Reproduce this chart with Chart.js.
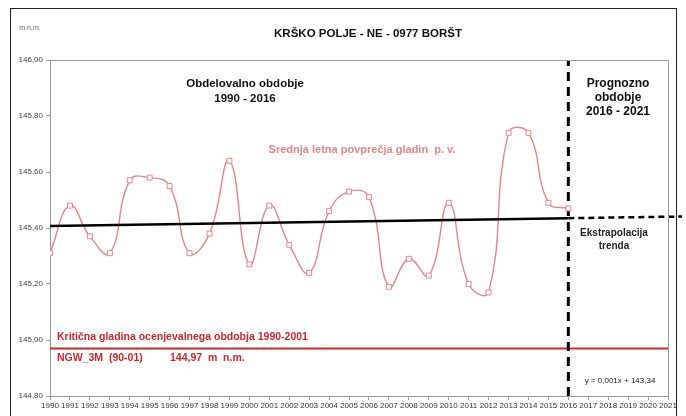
<!DOCTYPE html>
<html>
<head>
<meta charset="utf-8">
<script src="https://cdn.jsdelivr.net/npm/chart.js@4.4.1/dist/chart.umd.min.js"></script>
<style>
  html, body { margin: 0; padding: 0; background: #ffffff; }
  #wrap { position: relative; width: 686px; height: 416px; }
  canvas { display: block; }
</style>
</head>
<body>
<div id="wrap"><canvas id="c" width="686" height="416"></canvas></div>
<script>
// ---- data ----
const years = [1990,1991,1992,1993,1994,1995,1996,1997,1998,1999,2000,2001,2002,2003,2004,2005,2006,2007,2008,2009,2010,2011,2012,2013,2014,2015,2016];
const levels = [145.31,145.48,145.37,145.31,145.57,145.58,145.55,145.31,145.38,145.64,145.27,145.48,145.34,145.24,145.46,145.53,145.51,145.19,145.29,145.23,145.49,145.20,145.17,145.74,145.74,145.49,145.47];
const trendYears = [1990, 2016];
const trendValues = [145.407, 145.435];
const extrapYears = [2016, 2021.7];
const extrapValues = [145.435, 145.441];
const criticalYears = [1990, 2021];
const criticalValues = [144.97, 144.97];
const splitYear = 2016;
const yMin = 144.8, yMax = 146.0, yStep = 0.2;
const xMin = 1990, xMax = 2021;

const title = "KRŠKO POLJE - NE - 0977 BORŠT";
const unitLabel = "m n.m.";

const toXY = (xs, ys) => xs.map((x, i) => ({ x: x, y: ys[i] }));

const FONT = "'Liberation Sans', Arial, sans-serif";
const PINK = '#e6858a';
const RED = '#d2262e';

const textPlugin = {
  id: 'texts',
  afterDraw(chart) {
    const ctx = chart.ctx;
    const ca = chart.chartArea;
    ctx.save();
    // outer frame
    ctx.strokeStyle = '#222';
    ctx.lineWidth = 1;
    ctx.strokeRect(10.5, 8.5, 666, 420);
    // plot frame (top & right)
    ctx.strokeStyle = '#9a9a9a';
    ctx.beginPath();
    ctx.moveTo(ca.left, ca.top + 0.5);
    ctx.lineTo(ca.right + 0.5, ca.top + 0.5);
    ctx.lineTo(ca.right + 0.5, ca.bottom);
    ctx.stroke();

    const txt = (s, x, y, font, color, align) => {
      ctx.font = font; ctx.fillStyle = color; ctx.textAlign = align || 'center';
      ctx.textBaseline = 'middle'; ctx.fillText(s, x, y);
    };
    txt(unitLabel, 30, 28, '7px ' + FONT, '#666');
    txt(title, 368, 34, 'bold 11.5px ' + FONT, '#111');
    txt('Obdelovalno obdobje', 245, 84, 'bold 11.5px ' + FONT, '#111');
    txt('1990 - 2016', 245, 99, 'bold 11.5px ' + FONT, '#111');
    txt('Prognozno', 618, 84, 'bold 12px ' + FONT, '#111');
    txt('obdobje', 618, 98, 'bold 12px ' + FONT, '#111');
    txt('2016 - 2021', 618, 112, 'bold 12px ' + FONT, '#111');
    txt('Srednja letna povprečja gladin  p. v.', 362, 150, 'bold 11px ' + FONT, PINK);
    txt('Ekstrapolacija', 614, 233, 'bold 10px ' + FONT, '#222');
    txt('trenda', 614, 246, 'bold 10px ' + FONT, '#222');
    txt('Kritična gladina ocenjevalnega obdobja 1990-2001', 57, 337, 'bold 10.5px ' + FONT, RED, 'left');
    txt('NGW_3M  (90-01)', 57, 358, 'bold 10.5px ' + FONT, RED, 'left');
    txt('144,97  m  n.m.', 170, 358, 'bold 10.5px ' + FONT, RED, 'left');
    txt('y = 0,001x + 143,34', 620, 381, '8px ' + FONT, '#222');
    ctx.restore();
  }
};

new Chart(document.getElementById('c'), {
  type: 'line',
  data: {
    datasets: [
      {
        label: 'trend',
        data: toXY(trendYears, trendValues),
        borderColor: '#000', borderWidth: 2.5, pointRadius: 0, tension: 0, order: 0
      },
      {
        label: 'extrapolation',
        data: toXY(extrapYears, extrapValues),
        borderColor: '#000', borderWidth: 2.5, borderDash: [6, 4], pointRadius: 0, tension: 0, order: 0,
        clip: false
      },
      {
        label: 'Srednja letna povprečja gladin p. v.',
        data: toXY(years, levels),
        borderColor: PINK, borderWidth: 1.4, tension: 0.45,
        pointStyle: 'rect', pointRadius: 3.5, pointBackgroundColor: '#fff',
        pointBorderColor: PINK, pointBorderWidth: 1, order: 1
      },
      {
        label: 'split',
        data: toXY([splitYear, splitYear], [yMin, yMax]),
        borderColor: '#000', borderWidth: 3, borderDash: [9, 6], pointRadius: 0, order: 2
      },
      {
        label: 'critical',
        data: toXY(criticalYears, criticalValues),
        borderColor: RED, borderWidth: 2, pointRadius: 0, order: 3
      }
    ]
  },
  options: {
    responsive: false,
    animation: false,
    layout: { padding: { top: 60, right: 18, left: 0, bottom: 0 } },
    plugins: { legend: { display: false }, tooltip: { enabled: false } },
    scales: {
      x: {
        type: 'linear', min: xMin, max: xMax,
        grid: { drawOnChartArea: false, drawTicks: true, tickLength: 4, color: '#9a9a9a' },
        border: { color: '#9a9a9a', width: 1 },
        ticks: {
          stepSize: 1, autoSkip: false, maxRotation: 0, minRotation: 0, padding: 1,
          color: '#333', font: { family: FONT, size: 8 },
          callback: v => String(v)
        },
        afterFit: s => { s.height = 20; }
      },
      y: {
        type: 'linear', min: yMin, max: yMax,
        grid: { drawOnChartArea: false, drawTicks: true, tickLength: 4, color: '#9a9a9a' },
        border: { color: '#9a9a9a', width: 1 },
        ticks: {
          stepSize: yStep, padding: 3,
          color: '#444', font: { family: FONT, size: 8 },
          callback: v => v.toFixed(2).replace('.', ',')
        },
        afterFit: s => { s.width = 50; }
      }
    }
  },
  plugins: [textPlugin]
});
</script>
</body>
</html>
